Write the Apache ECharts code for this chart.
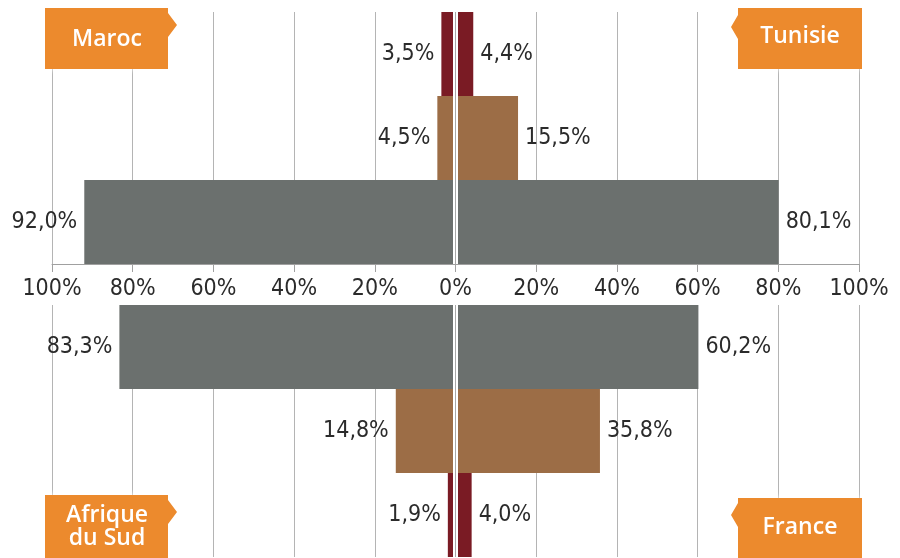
<!DOCTYPE html>
<html>
<head>
<meta charset="utf-8">
<script src="https://cdn.jsdelivr.net/npm/echarts@6/dist/echarts.min.js"></script>
<style>html,body{margin:0;padding:0;background:#fff}#c{width:900px;height:558px}</style>
</head>
<body>
<div id="c"></div>
<script>
// Rows, top to bottom within each half's own order
const groups = ['Groupe 1', 'Groupe 2', 'Groupe 3'];
// Top half (rows top→bottom: groupe 1, 2, 3)
const maroc = [3.5, 4.5, 92.0];
const tunisie = [4.4, 15.5, 80.1];
// Bottom half (rows bottom→top: groupe 1, 2, 3)
const afriqueDuSud = [1.9, 14.8, 83.3];
const france = [4.0, 35.8, 60.2];
const countries = ['Maroc', 'Tunisie', 'Afrique\ndu Sud', 'France'];
const tickValues = [-100, -80, -60, -40, -20, 0, 20, 40, 60, 80, 100];

const groupColors = ['#7a1b24', '#9c6d46', '#6b706e'];
const FONT = "'Liberation Sans Narrow', 'Arial Narrow', 'DejaVu Sans Condensed', sans-serif";
const fmt = v => Math.abs(v).toFixed(1).replace('.', ',') + '%';

function items(vals, sign) {
  return vals.map((v, i) => ({ value: sign * v, itemStyle: { color: groupColors[i] } }));
}
function barSeries(vals, sign, gridIdx, withMark) {
  const s = {
    type: 'bar',
    xAxisIndex: gridIdx,
    yAxisIndex: gridIdx,
    stack: 'g' + gridIdx,
    barCategoryGap: 0,
    data: items(vals, sign),
    animation: false,
    label: {
      show: true,
      position: sign < 0 ? 'left' : 'right',
      distance: 7,
      formatter: p => fmt(p.value),
      fontFamily: FONT,
      fontSize: 23,
      color: '#2b2b2b'
    }
  };
  if (withMark) {
    s.markLine = {
      silent: true,
      symbol: ['none', 'none'],
      label: { show: false },
      animation: false,
      data: [
        { xAxis: 0, lineStyle: { color: '#ffffff', width: 5, type: 'solid' } },
        { xAxis: 0, lineStyle: { color: '#a8a8a8', width: 1, type: 'solid' } }
      ]
    };
  }
  return s;
}

const xCommon = {
  type: 'value', min: -100, max: 100, interval: 20,
  splitLine: { show: true, lineStyle: { color: '#b4b4b4', width: 1 } }
};

function box(x0, y0, x1, y1, arrowSide, ay) {
  let pts;
  if (arrowSide === 'right') {
    pts = [[x0, y0], [x1, y0], [x1, ay - 12], [x1 + 9, ay], [x1, ay + 12], [x1, y1], [x0, y1]];
  } else {
    pts = [[x0, y0], [x1, y0], [x1, y1], [x0, y1], [x0, ay + 12], [x0 - 7, ay], [x0, ay - 12]];
  }
  return { type: 'polygon', shape: { points: pts }, style: { fill: '#ec8a2d', shadowBlur: 6, shadowColor: 'rgba(255,255,255,0.9)' }, z: 100 };
}
function boxText(txt, x, y) {
  return { type: 'text', x: x, y: y, z: 101,
    style: { text: txt, fill: '#ffffff', font: "600 23px 'Open Sans', sans-serif", textAlign: 'center', textVerticalAlign: 'middle', lineHeight: 23 } };
}

const chart = echarts.init(document.getElementById('c'), null, { renderer: 'canvas' });
chart.setOption({
  animation: false,
  backgroundColor: '#ffffff',
  grid: [
    { left: 52, right: 41, top: 12, height: 252 },
    { left: 52, right: 41, top: 305, bottom: 1 }
  ],
  xAxis: [
    Object.assign({}, xCommon, {
      gridIndex: 0, position: 'bottom',
      axisLine: { show: true, onZero: false, lineStyle: { color: '#a0a0a0', width: 1 } },
      axisTick: { show: true, length: 8, lineStyle: { color: '#a0a0a0' } },
      axisLabel: { show: true, margin: 14, formatter: v => Math.abs(v) + '%', fontFamily: FONT, fontSize: 23, color: '#2b2b2b' }
    }),
    Object.assign({}, xCommon, {
      gridIndex: 1,
      axisLine: { show: false }, axisTick: { show: false }, axisLabel: { show: false }
    })
  ],
  yAxis: [
    { type: 'category', gridIndex: 0, data: groups, inverse: true, show: false },
    { type: 'category', gridIndex: 1, data: groups, inverse: false, show: false }
  ],
  series: [
    barSeries(maroc, -1, 0, false),
    barSeries(tunisie, 1, 0, true),
    barSeries(afriqueDuSud, -1, 1, false),
    barSeries(france, 1, 1, true)
  ],
  graphic: [
    box(45, 8, 168, 69, 'right', 25),
    boxText(countries[0], 107, 39),
    box(738, 8, 862, 69, 'left', 27),
    boxText(countries[1], 800, 36),
    box(45, 495, 168, 558, 'right', 512),
    boxText(countries[2], 107, 527),
    box(738, 498, 862, 558, 'left', 515),
    boxText(countries[3], 800, 527)
  ]
});
</script>
</body>
</html>
